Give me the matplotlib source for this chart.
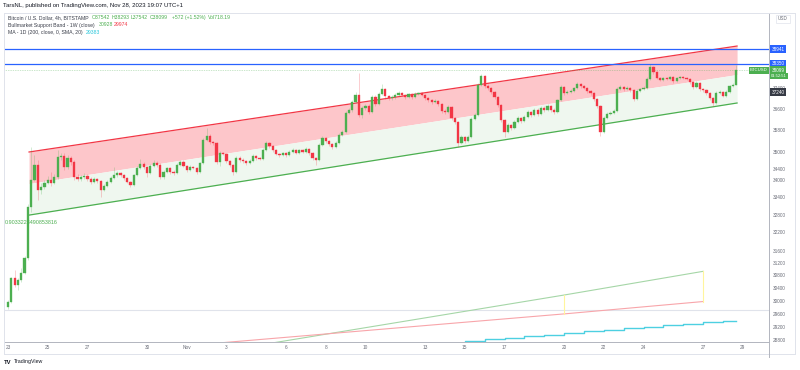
import matplotlib
matplotlib.use("Agg")
import matplotlib.pyplot as plt
import matplotlib.transforms as mtransforms
from matplotlib.lines import Line2D
from matplotlib.ticker import NullLocator
import numpy as np

plt.rcParams['font.family'] = ['Liberation Sans', 'DejaVu Sans']

# BTCUSD 4h candles, Oct 23 00:00 -> Nov 28 16:00
first_open = 29806
closes = [29960, 30716, 30491, 30652, 30876, 31360, 33060, 34002, 34536, 33650,
          33756, 33897, 34002, 33897, 34107, 34822, 34858, 34464, 34787, 34643,
          34107, 34037, 34107, 34142, 34037, 33932, 34037, 33967, 33650, 33791,
          33932, 34072, 34177, 34248, 34177, 34072, 33932, 33826, 34177, 34428,
          34572, 34464, 34248, 34500, 34607, 34536, 34107, 34284, 34428, 34284,
          34248, 34536, 34643, 34500, 34356, 34464, 34428, 34284, 34607, 35440,
          35589, 35368, 35332, 34643, 34967, 34931, 34679, 34536, 34284, 34787,
          34715, 34679, 34607, 34679, 34858, 34787, 34751, 35077, 35332, 35223,
          35077, 34931, 34894, 34967, 34894, 35004, 35077, 34967, 35077, 35004,
          35114, 34967, 34787, 34715, 35260, 35514, 35404, 35296, 35187, 35332,
          35626, 35736, 36449, 36563, 36868, 37135, 36373, 36640, 36716, 36487,
          37059, 36792, 37174, 37367, 37097, 37020, 37059, 37135, 37212, 37135,
          37059, 37174, 37059, 37174, 37212, 37135, 37020, 36944, 36868, 36906,
          36792, 36525, 36487, 36678, 36260, 36110, 35332, 35552, 35404, 35552,
          36223, 36373, 37522, 37875, 37483, 37405, 37251, 37059, 36754, 36186,
          35736, 35996, 35884, 36110, 36260, 36148, 36297, 36487, 36373, 36563,
          36411, 36640, 36563, 36716, 36563, 36487, 36944, 37444, 37212, 37251,
          37289, 37405, 37561, 37483, 37405, 37289, 37212, 36982, 36716, 35736,
          36260, 36411, 36449, 36525, 37367, 37444, 37367, 37405, 37328, 36982,
          37289, 37367, 37405, 37755, 38231, 38033, 37796, 37716, 37796, 37755,
          37835, 37677, 37796, 37835, 37796, 37755, 37638, 37444, 37600, 37367,
          37328, 37212, 37020, 36830, 37212, 37251, 37097, 37251, 37483, 37542,
          38099]
highs = [30020, 30760, 30970, 30700, 31040, 31420, 33150, 35190, 34900, 34700,
         33900, 34000, 34150, 34300, 34200, 35080, 34950, 34950, 34900, 34850,
         34700, 34200, 34180, 34250, 34220, 34100, 34100, 34080, 34000, 33850,
         34000, 34150, 34450, 34320, 34300, 34200, 34100, 33980, 34230, 34500,
         34750, 34650, 34500, 34580, 34700, 34680, 34600, 34350, 34480, 34460,
         34350, 34600, 34720, 34700, 34550, 34520, 34500, 34470, 34650, 35500,
         35900, 35650, 35420, 35380, 35050, 35020, 34980, 34720, 34580, 34850,
         34850, 34780, 34720, 34750, 34920, 34900, 34830, 35150, 35400, 35380,
         35260, 35120, 34980, 35020, 35000, 35080, 35140, 35120, 35130, 35100,
         35200, 35150, 35000, 34820, 35320, 35580, 35560, 35450, 35330, 35400,
         35700, 35800, 36520, 36650, 36950, 37250, 37990, 36720, 36800, 36780,
         37120, 37150, 37250, 37561, 37400, 37150, 37130, 37200, 37280, 37260,
         37180, 37230, 37210, 37240, 37270, 37250, 37170, 37060, 36990, 36970,
         36950, 36830, 36600, 36740, 36720, 36300, 36150, 35620, 35600, 35610,
         36280, 36440, 37600, 37960, 37920, 37560, 37450, 37300, 37100, 36800,
         36220, 36080, 36050, 36180, 36330, 36310, 36360, 36560, 36540, 36640,
         36620, 36700, 36720, 36780, 36760, 36620, 37000, 37520, 37480, 37320,
         37350, 37460, 37650, 37620, 37540, 37450, 37340, 37250, 37020, 36760,
         36320, 36470, 36510, 36600, 37430, 37520, 37500, 37470, 37450, 37380,
         37350, 37420, 37470, 37820, 38349, 38280, 38080, 37840, 37850, 37830,
         37890, 37880, 37850, 37880, 37870, 37830, 37790, 37680, 37660, 37640,
         37420, 37370, 37260, 37060, 37280, 37320, 37300, 37310, 37540, 37600,
         38293]
lows = [29745, 29920, 30440, 30330, 30600, 30850, 31300, 32900, 33950, 33300,
        33500, 33700, 33850, 33800, 33850, 34050, 34700, 34350, 34400, 34550,
        34000, 33950, 33980, 34050, 33950, 33850, 33880, 33900, 33420, 33600,
        33750, 33900, 34050, 34120, 34100, 34000, 33880, 33750, 33800, 34150,
        34400, 34400, 34100, 34200, 34450, 34480, 34050, 34050, 34250, 34200,
        34180, 34200, 34500, 34450, 34300, 34320, 34380, 34200, 34250, 34580,
        35400, 35300, 35250, 34580, 34500, 34880, 34620, 34480, 34180, 34250,
        34650, 34620, 34550, 34560, 34640, 34720, 34700, 34720, 35040, 35150,
        35000, 34880, 34840, 34850, 34820, 34860, 34960, 34920, 34930, 34950,
        34960, 34900, 34720, 34540, 34680, 35220, 35350, 35240, 35120, 35150,
        35300, 35580, 35700, 36400, 36500, 36820, 36300, 36250, 36550, 36400,
        36450, 36700, 36750, 37120, 37000, 36950, 36960, 37000, 37100, 37080,
        37000, 37020, 37000, 37030, 37120, 37080, 36960, 36880, 36800, 36820,
        36720, 36450, 36420, 36440, 36200, 36050, 35187, 35280, 35350, 35360,
        35520, 36180, 36330, 37480, 37420, 37340, 37180, 36980, 36680, 36100,
        35552, 35690, 35800, 35850, 36060, 36080, 36100, 36250, 36300, 36330,
        36350, 36380, 36500, 36520, 36500, 36420, 36450, 36900, 37150, 37170,
        37200, 37250, 37380, 37420, 37350, 37220, 37150, 36920, 36650, 35589,
        35700, 36220, 36360, 36400, 36480, 37320, 37300, 37320, 37270, 36920,
        36950, 37240, 37330, 37380, 37720, 37970, 37740, 37660, 37680, 37700,
        37720, 37620, 37640, 37760, 37740, 37700, 37580, 37380, 37400, 37300,
        37270, 37150, 36960, 36716, 36790, 37170, 37040, 37060, 37220, 37440,
        37542]
bars_per_day = 6

# parallel channel (days from Oct 23, price)
chan_days = [1.06, 36.71]
chan_upper = [35004, 39071]
chan_lower = [32786, 36829]
chan_label = "0.9033228490853816"

# horizontal lines
hlines = [38941, 38350]
last_price = 38099
pane_line = 29712

# Bullmarket Support Band, weekly points
bmsb_days = [0, 7, 14, 21, 28, 35]
bmsb_sma = [27460, 28110, 28780, 29470, 30177, 30928]
bmsb_ema = [28190, 28533, 28882, 29236, 29592, 29974]

# MA 200 1D (Nov 14 .. Nov 28)
ma_days = list(range(22, 37))
ma_vals = [28700, 28760, 28820, 28870, 28920, 28960, 29010, 29060,
           29100, 29150, 29200, 29250, 29290, 29340, 29383]

date_ticks = [0, 2, 4, 7, 9, 11, 14, 16, 18, 21, 23, 25, 28, 30, 32, 35, 37]
date_labels = ['23', '25', '27', '30', 'Nov', '3', '6', '8', '10', '13',
               '15', '17', '20', '22', '24', '27', '29']
price_ticks = [37400, 36600, 35800, 35000, 34400, 34000, 33400, 32800, 32200,
               31600, 31200, 30800, 30400, 30000, 29600, 29200, 28800]

UP = '#4caf50'
DOWN = '#f23645'
GREY = '#6a6d78'
W, H = 800, 370

fig = plt.figure(figsize=(8, 3.7), dpi=100)
fig.patch.set_facecolor('white')
ax = fig.add_axes([4 / W, (H - 342) / H, 765 / W, 329 / H])
ax.set_yscale('log')
ax.set_xlim(-0.2014, 38.318)
ax.set_ylim(28742, 40433)

closes = np.array(closes, dtype=float)
opens = np.r_[first_open, closes[:-1]]
highs = np.array(highs, dtype=float)
lows = np.array(lows, dtype=float)
x = np.arange(len(closes)) / bars_per_day
cols = np.where(closes >= opens, UP, DOWN)

# channel
c_up = np.array(chan_upper, float)
c_lo = np.array(chan_lower, float)
c_mid = np.sqrt(c_up * c_lo)
ax.fill_between(chan_days, c_mid, c_up, color='#fdc6ca', lw=0, zorder=1)
ax.fill_between(chan_days, c_lo, c_mid, color='#eff7ef', lw=0, zorder=1)
ax.plot(chan_days, c_up, color='#f23645', lw=0.9, zorder=2)
ax.plot(chan_days, c_lo, color='#4caf50', lw=0.9, zorder=2)
bt = mtransforms.blended_transform_factory(ax.transAxes, ax.transData)
ax.text(0.0015, chan_lower[0] * 0.9925, chan_label, color='#4caf50', fontsize=3.9,
        va='center', ha='left', transform=bt)

# horizontals
for h in hlines:
    ax.axhline(h, color='#2962ff', lw=0.9, zorder=2)
ax.axhline(last_price, color='#4caf50', lw=0.5, ls=(0, (1, 1.5)), alpha=0.6, zorder=2)
ax.axhline(pane_line, color='#e0e3eb', lw=0.8, zorder=1)

# BMSB
ax.plot(bmsb_days, bmsb_sma, color='#a5d6a7', lw=0.8, zorder=2)
ax.plot(bmsb_days, bmsb_ema, color='#f8a5aa', lw=0.8, zorder=2)
for d, a, b in zip(bmsb_days[-2:], bmsb_ema[-2:], bmsb_sma[-2:]):
    ax.plot([d, d], [a, b], color='#fff59d', lw=0.8, zorder=2)

# MA
ax.plot(ma_days + [x[-1]], ma_vals + [ma_vals[-1]], drawstyle='steps-post',
        color='#4dd0e1', lw=1.0, zorder=2)

# candles
ax.vlines(x, lows, highs, colors=cols, lw=0.5, alpha=0.35, zorder=3)
ax.bar(x, np.abs(closes - opens), bottom=np.minimum(opens, closes), width=0.11,
       color=cols, edgecolor=cols, lw=0.25, zorder=4)

# axes styling
for s in ['top', 'left']:
    ax.spines[s].set_visible(False)
for s in ['right', 'bottom']:
    ax.spines[s].set_color('#b2b5be')
    ax.spines[s].set_linewidth(0.7)
ax.yaxis.tick_right()
ax.set_yticks(price_ticks, [str(p) for p in price_ticks])
ax.yaxis.set_minor_locator(NullLocator())
ax.set_xticks(date_ticks, date_labels)
ax.tick_params(axis='y', length=0, pad=3, labelsize=3.4, labelcolor=GREY)
ax.tick_params(axis='x', length=0, pad=2.5, labelsize=3.4, labelcolor=GREY)

# price labels on the right scale
for h in hlines:
    ax.text(1.003, h, str(h), transform=bt, fontsize=3.3, color='white', va='center',
            ha='left', clip_on=False, zorder=6,
            bbox=dict(boxstyle='square,pad=0.3', fc='#2962ff', ec='none'))
ax.text(1.003, last_price, str(last_price), transform=bt, fontsize=3.3, color='white',
        va='center', ha='left', clip_on=False, zorder=6,
        bbox=dict(boxstyle='square,pad=0.3', fc='#4caf50', ec='none'))
ax.annotate('01:52:51', xy=(1.003, last_price), xycoords=bt, xytext=(0, -4.2),
            textcoords='offset points', fontsize=3.0, color='white', va='center',
            ha='left', annotation_clip=False, zorder=6,
            bbox=dict(boxstyle='square,pad=0.3', fc='#4caf50', ec='none'))
ax.text(0.9985, last_price, 'BTCUSD', transform=bt, fontsize=3.1, color='white',
        va='center', ha='right', clip_on=False, zorder=6,
        bbox=dict(boxstyle='square,pad=0.3', fc='#4caf50', ec='none'))
ax.text(1.003, 37240, '37240', transform=bt, fontsize=3.3, color='white', va='center',
        ha='left', clip_on=False, zorder=6,
        bbox=dict(boxstyle='square,pad=0.3', fc='#363a45', ec='none'))


def fx(px):
    return px / W


def fy(py):
    return 1 - py / H


# frame
frame = dict(color='#e0e3eb', lw=0.7)
fig.add_artist(Line2D([fx(4), fx(795)], [fy(13), fy(13)], **frame))
fig.add_artist(Line2D([fx(4), fx(795)], [fy(354), fy(354)], **frame))
fig.add_artist(Line2D([fx(4), fx(4)], [fy(13), fy(354)], **frame))
fig.add_artist(Line2D([fx(795), fx(795)], [fy(13), fy(354)], **frame))
fig.add_artist(Line2D([fx(769), fx(769)], [fy(342), fy(357)], color='#b2b5be', lw=0.7))

fig.text(fx(783), fy(19), 'USD', fontsize=3.3, color=GREY, ha='center', va='center',
         bbox=dict(boxstyle='square,pad=0.4', fc='white', ec='#e0e3eb', lw=0.5))

# header and legend
fig.text(fx(3), fy(5), 'TarsNL, published on TradingView.com, Nov 28, 2023 19:07 UTC+1',
         fontsize=4.3, color='#131722', va='center')

legend1 = [(7.5, 'Bitcoin / U.S. Dollar, 4h, BITSTAMP', '#3a3e4a'),
           (92, 'O37542', UP), (112, 'H38293', UP), (131, 'L37542', UP),
           (150, 'C38099', UP), (172, '+572 (+1.52%)', UP), (208, 'Vol718.19', UP)]
for px, t, c in legend1:
    fig.text(fx(px), fy(17.5), t, fontsize=3.7, color=c, va='center')
legend2 = [(7.5, 'Bullmarket Support Band - 1W (close)', '#3a3e4a'),
           (99, '30928', UP), (113.5, '29974', DOWN)]
for px, t, c in legend2:
    fig.text(fx(px), fy(25), t, fontsize=3.7, color=c, va='center')
legend3 = [(7.5, 'MA - 1D (200, close, 0, SMA, 20)', '#3a3e4a'),
           (86, '29383', '#26c6da')]
for px, t, c in legend3:
    fig.text(fx(px), fy(32.7), t, fontsize=3.7, color=c, va='center')

# logo
fig.text(fx(4), fy(362), 'TV', fontsize=4.2, fontweight='bold', color='#131722', va='center')
fig.text(fx(14), fy(362), 'TradingView', fontsize=3.8, color='#131722', va='center')

fig.savefig('out.png', dpi=100, facecolor='white')
